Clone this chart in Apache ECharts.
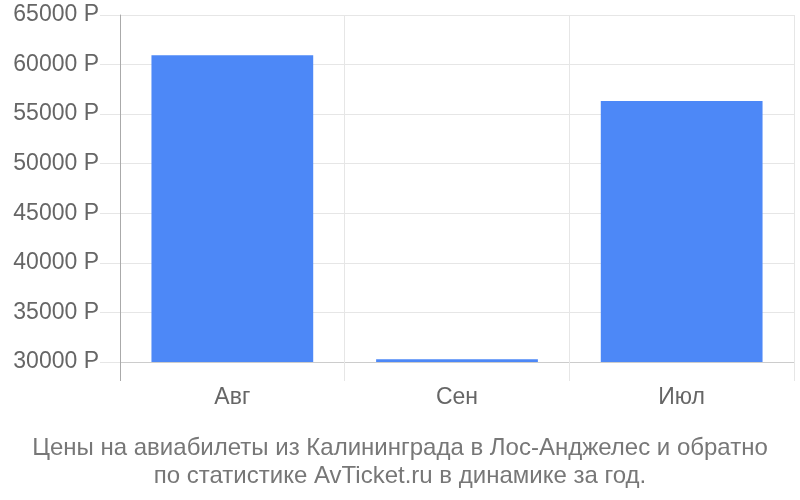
<!DOCTYPE html>
<html>
<head>
<meta charset="utf-8">
<script src="https://cdn.jsdelivr.net/npm/echarts@6/dist/echarts.min.js"></script>
<style>html,body{margin:0;padding:0;background:#fff}#c{width:800px;height:500px}</style>
</head>
<body>
<div id="c"></div>
<script>
const categories = ['Авг', 'Сен', 'Июл'];
const prices = [60950, 30280, 56320];
const yTicks = [30000, 35000, 40000, 45000, 50000, 55000, 60000, 65000];
const baseValue = 30000;
const titleLines = ['Цены на авиабилеты из Калининграда в Лос-Анджелес и обратно', 'по статистике AvTicket.ru в динамике за год.'];

const FONT = '"Liberation Sans", Arial, sans-serif';
const chart = echarts.init(document.getElementById('c'), null, {renderer: 'canvas'});
chart.setOption({
  animation: false,
  backgroundColor: '#fff',
  title: {
    text: titleLines.join('\n'),
    left: 'center',
    top: 429,
    textStyle: {fontFamily: FONT, fontSize: 24, fontWeight: 'normal', color: '#777', lineHeight: 28}
  },
  grid: {left: 120, right: 6, top: 15, bottom: 138, containLabel: false},
  xAxis: [{
    type: 'category',
    data: categories,
    boundaryGap: true,
    axisLine: {show: true, lineStyle: {color: '#ccc', width: 1}},
    axisTick: {show: true, length: 19, interval: 0, alignWithLabel: false, lineStyle: {color: '#e6e6e6'}},
    splitLine: {show: true, interval: 0, lineStyle: {color: '#e6e6e6'}},
    axisLabel: {fontFamily: FONT, fontSize: 23, color: '#666', margin: 24, interval: 0}
  }, {
    type: 'value',
    min: 0, max: 1,
    position: 'bottom',
    axisLine: {show: false},
    axisTick: {show: true, length: 19, customValues: [0], lineStyle: {color: '#aaa'}},
    axisLabel: {show: false},
    splitLine: {show: false}
  }],
  yAxis: {
    type: 'value',
    min: yTicks[0],
    max: yTicks[yTicks.length - 1],
    interval: 5000,
    axisLine: {show: true, lineStyle: {color: '#aaa'}},
    axisTick: {show: true, length: 20, lineStyle: {color: '#e6e6e6'}},
    splitLine: {show: true, lineStyle: {color: '#e6e6e6'}},
    axisLabel: {fontFamily: FONT, fontSize: 23, color: '#666', margin: 21, formatter: v => v + ' Р'}
  },
  series: [{
    type: 'custom',
    xAxisIndex: 0,
    yAxisIndex: 0,
    data: prices.map((v, i) => [i, v]),
    renderItem: function (params, api) {
      const top = api.coord([api.value(0), api.value(1)]);
      const bottom = api.coord([api.value(0), baseValue]);
      const bw = api.size([1, 0])[0] * 0.72;
      return {
        type: 'rect',
        shape: {x: top[0] - bw / 2, y: top[1], width: bw, height: bottom[1] - top[1]},
        style: {fill: '#4d88f7'}
      };
    },
    encode: {x: 0, y: 1},
    z: 3
  }]
});
</script>
</body>
</html>
